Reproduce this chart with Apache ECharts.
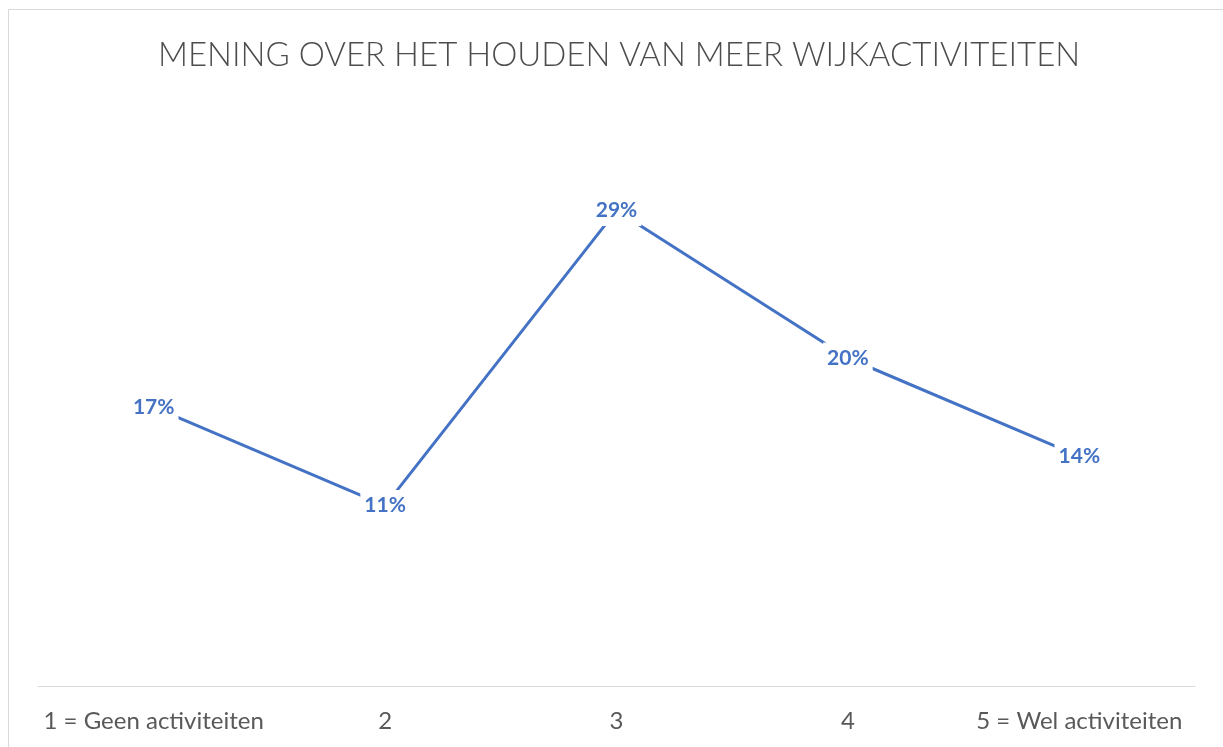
<!DOCTYPE html>
<html>
<head>
<meta charset="utf-8">
<script src="https://cdn.jsdelivr.net/npm/echarts@6/dist/echarts.min.js"></script>
<style>
  html, body { margin: 0; padding: 0; background: #fff; }
  #chart { width: 1223px; height: 747px; }
</style>
</head>
<body>
<div id="chart"></div>
<script>
const categories = ['1 = Geen activiteiten', '2', '3', '4', '5 = Wel activiteiten']
const values = [0.17, 0.11, 0.29, 0.20, 0.14]

const chart = echarts.init(document.getElementById('chart'))

chart.setOption({
  animation: false,
  title: {
    text: 'MENING OVER HET HOUDEN VAN MEER WIJKACTIVITEITEN',
    left: 153,
    top: 34,
    textStyle: {
      fontFamily: 'Lato',
      fontWeight: 300,
      fontSize: 33,
      color: '#4d4d4d',
    },
  },
  graphic: [
    {
      type: 'rect',
      shape: { x: 8.5, y: 9.5, width: 1240, height: 760 },
      style: { fill: 'none', stroke: '#d9d9d9', lineWidth: 1 },
      silent: true,
    },
  ],
  grid: { left: 38, right: 28, top: 112, bottom: 61 },
  xAxis: {
    type: 'category',
    data: categories,
    boundaryGap: true,
    axisLine: { lineStyle: { color: '#d9d9d9', width: 1 } },
    axisTick: { show: false },
    axisLabel: {
      margin: 23,
      fontFamily: 'Lato',
      fontSize: 24,
      color: '#595959',
      interval: 0,
    },
  },
  yAxis: {
    type: 'value',
    min: 0,
    max: 0.35,
    interval: 0.05,
    show: false,
    splitLine: { show: false },
  },
  series: [
    {
      type: 'line',
      data: values,
      showSymbol: true,
      symbol: 'circle',
      symbolSize: 0,
      lineStyle: { color: '#4472C4', width: 3 },
      label: {
        show: true,
        position: 'inside',
        formatter: (p) => Math.round(p.value * 100) + '%',
        fontFamily: 'Lato',
        fontWeight: 'bold',
        fontSize: 21,
        color: '#4472C4',
        backgroundColor: '#fff',
        padding: [5, 4],
      },
    },
  ],
})
</script>
</body>
</html>
